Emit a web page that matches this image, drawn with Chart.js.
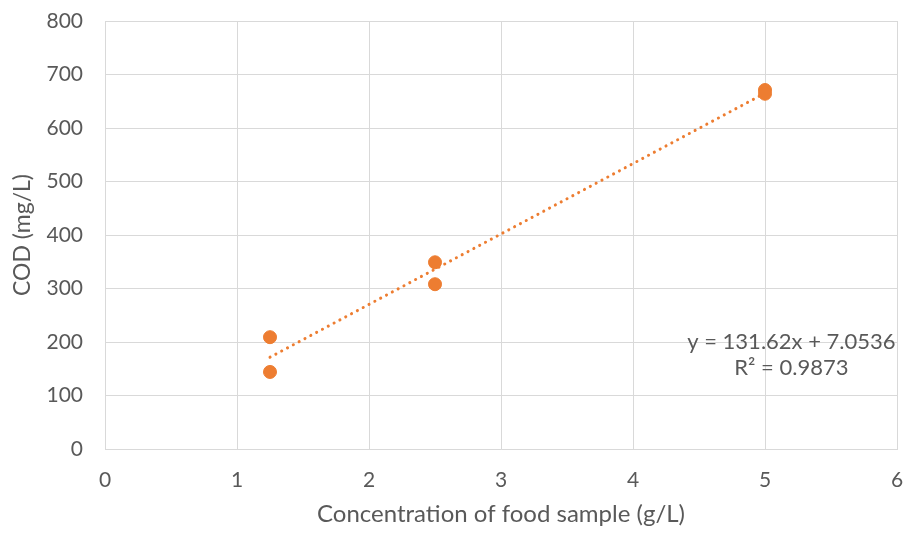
<!DOCTYPE html>
<html><head><meta charset="utf-8">
<script src="https://cdn.jsdelivr.net/npm/chart.js@4"></script>
<style>html,body{margin:0;padding:0;background:#fff}#wrap{width:907px;height:533px}</style>
</head><body><div id="wrap"><canvas id="c" width="907" height="533"></canvas></div>
<script>
const concX = [1.25, 1.25, 2.5, 2.5, 5, 5];
const codY = [209, 144, 349, 308, 671, 664];
const trendX = [1.25, 5];
const slope = 131.62, intercept = 7.0536;
const eqLines = ["y = 131.62x + 7.0536", "R² = 0.9873"];
const xTitle = "Concentration of food sample (g/L)";
const yTitle = "COD (mg/L)";
const FONT = "Lato, 'Open Sans', sans-serif";
const TXT = "#595959";
const ORANGE = "#ED7D31";

const trendPts = trendX.map(x => ({x: x, y: slope * x + intercept}));

const eqPlugin = {
  id: 'eq',
  afterDatasetsDraw(chart) {
    const ctx = chart.ctx, xs = chart.scales.x, ys = chart.scales.y;
    ctx.save();
    ctx.font = "22px " + FONT;
    ctx.fillStyle = TXT;
    ctx.textAlign = "center";
    ctx.textBaseline = "middle";
    const cx = xs.getPixelForValue(5.2);
    ctx.fillText(eqLines[0], cx, ys.getPixelForValue(200));
    ctx.fillText(eqLines[1], cx, ys.getPixelForValue(151));
    ctx.restore();
  }
};

new Chart(document.getElementById('c'), {
  type: 'scatter',
  data: {
    datasets: [
      {
        data: concX.map((x, i) => ({x: x, y: codY[i]})),
        backgroundColor: ORANGE, borderColor: ORANGE,
        pointRadius: 6.5, pointHoverRadius: 6.5, order: 1
      },
      {
        type: 'line', data: trendPts, showLine: true,
        borderColor: ORANGE, borderWidth: 3, borderDash: [0.1, 6.5], borderCapStyle: 'round',
        pointRadius: 0, fill: false, order: 2
      }
    ]
  },
  plugins: [eqPlugin],
  options: {
    responsive: false, animation: false, devicePixelRatio: 1,
    layout: {padding: {top: 21, right: 10, left: 0, bottom: 0}},
    plugins: {legend: {display: false}, tooltip: {enabled: false}},
    scales: {
      x: {
        type: 'linear', min: 0, max: 6,
        ticks: {stepSize: 1, color: TXT, font: {family: FONT, size: 21}, padding: 19},
        grid: {color: '#d9d9d9', lineWidth: 1, drawTicks: false},
        border: {color: '#d9d9d9'},
        title: {display: true, text: xTitle, color: TXT, font: {family: FONT, size: 24}, padding: {top: 6}},
        afterFit(s) { s.height = 84; s.paddingLeft = 0; s.paddingRight = 0; }
      },
      y: {
        min: 0, max: 800,
        ticks: {stepSize: 100, color: TXT, font: {family: FONT, size: 21}, padding: 22},
        grid: {color: '#d9d9d9', lineWidth: 1, drawTicks: false},
        border: {color: '#d9d9d9'},
        title: {display: true, text: yTitle, color: TXT, font: {family: FONT, size: 23}, padding: {top: 9, bottom: 0}},
        afterFit(s) { s.width = 105; s.paddingTop = 0; s.paddingBottom = 0; }
      }
    }
  }
});
</script></body></html>
